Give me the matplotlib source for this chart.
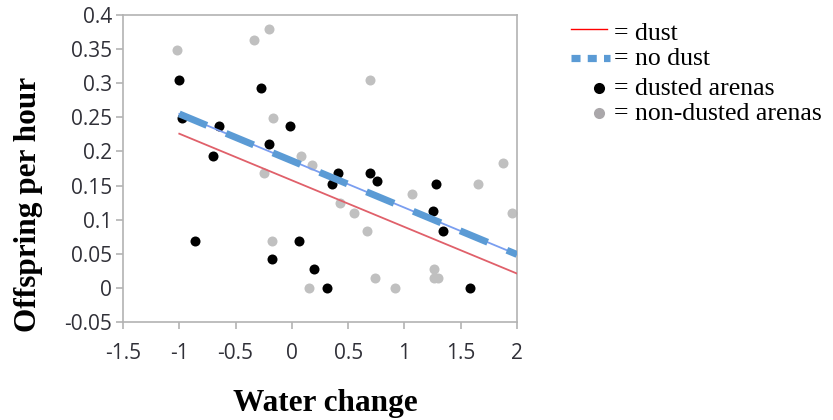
import matplotlib
matplotlib.use("Agg")
import matplotlib.pyplot as plt
import numpy as np

# dusted arenas (black)
dust_x = [-1.0, -0.27, -0.98, -0.65, -0.02, -0.20, -0.70, 0.41, 0.36, 0.69, 0.76,
          1.28, 1.25, 1.34, -0.86, 0.06, -0.18, 0.20, 0.31, 1.58]
dust_y = [0.305, 0.293, 0.249, 0.238, 0.238, 0.211, 0.194, 0.168, 0.153, 0.168, 0.156,
          0.153, 0.112, 0.083, 0.069, 0.069, 0.042, 0.028, 0.0, 0.0]
# non-dusted arenas (grey)
nodust_x = [-1.02, -0.34, -0.20, 0.69, -0.17, 0.08, 0.18, 1.88, -0.25, 1.65, 1.07,
            0.43, 0.55, 1.96, 0.67, -0.18, 1.26, 1.26, 1.30, 0.74, 0.15, 0.92]
nodust_y = [0.348, 0.363, 0.380, 0.305, 0.249, 0.194, 0.180, 0.183, 0.168, 0.153, 0.138,
            0.124, 0.110, 0.110, 0.083, 0.069, 0.028, 0.014, 0.014, 0.014, 0.0, 0.0]

# fitted lines (x range, y endpoints)
line_x = [-1.0, 2.0]
dust_line_y = [0.226, 0.021]
nodust_line_y = [0.255, 0.049]

x_ticks = [-1.5, -1, -0.5, 0, 0.5, 1, 1.5, 2]
y_ticks = [-0.05, 0, 0.05, 0.1, 0.15, 0.2, 0.25, 0.3, 0.35, 0.4]

fig = plt.figure(figsize=(8.33, 4.2), dpi=100)
ax = fig.add_axes([123/833, 1-322/420, (517-123)/833, (322-15)/420])

ax.scatter(nodust_x, nodust_y, s=52, color="#c0c0c0", linewidths=0, zorder=2)
ax.scatter(dust_x, dust_y, s=52, color="black", linewidths=0, zorder=3)

ax.plot(line_x, dust_line_y, color="#e0606a", lw=1.3, zorder=4)
ax.plot(line_x, nodust_line_y, color="#7a9ef0", lw=1.3, zorder=4)
ax.plot(line_x, nodust_line_y, color="#5b9bd5", lw=5, dashes=(4.3, 3.0), zorder=5,
        solid_capstyle="butt", dash_capstyle="butt")

ax.set_xlim(-1.5, 2)
ax.set_ylim(-0.05, 0.4)
ax.set_xticks(x_ticks)
ax.set_xticklabels([("%g" % v) for v in x_ticks])
ax.set_yticks(y_ticks)
ax.set_yticklabels([("%g" % v) for v in y_ticks])
for s in ax.spines.values():
    s.set_color("#b3b3b3")
    s.set_linewidth(1.2)
ax.tick_params(axis="both", colors="#b3b3b3", length=5, width=1.2, labelcolor="#303038",
               labelsize=15)
ax.tick_params(axis="x", pad=10)
ax.tick_params(axis="y", pad=3)
for lab in ax.get_xticklabels() + ax.get_yticklabels():
    lab.set_family("Open Sans")

def fx(px):
    return px / 833
def fy(py):
    return 1 - py / 420

fig.text(fx(325), fy(411), "Water change", family="Liberation Serif", fontweight="bold",
         fontsize=22.5, ha="center", va="baseline")
fig.text(fx(29), fy(204), "Offspring per hour", family="Liberation Serif", fontweight="bold",
         fontsize=22.5, ha="center", va="center", rotation=90)

# legend drawn manually in figure coordinates
fig.add_artist(plt.Line2D([fx(571), fx(607)], [fy(29), fy(29)], color="red", lw=1.0))
fig.add_artist(plt.Line2D([fx(571), fx(610)], [fy(58), fy(58)], color="#5b9bd5", lw=5.2,
                          dashes=(1.25, 1.0), dash_capstyle="butt"))
fig.add_artist(plt.Line2D([fx(599)], [fy(88)], marker="o", color="black", markersize=8,
                          markeredgewidth=0))
fig.add_artist(plt.Line2D([fx(599)], [fy(113)], marker="o", color="#aaa7aa", markersize=8,
                          markeredgewidth=0))
labels = ["= dust", "= no dust", "= dusted arenas", "= non-dusted arenas"]
ys = [40, 65, 95, 120]
for t, yy in zip(labels, ys):
    fig.text(fx(614), fy(yy), t, family="Liberation Serif", fontsize=18.5, va="baseline",
             ha="left", color="black")

fig.savefig("out.png", dpi=100)
